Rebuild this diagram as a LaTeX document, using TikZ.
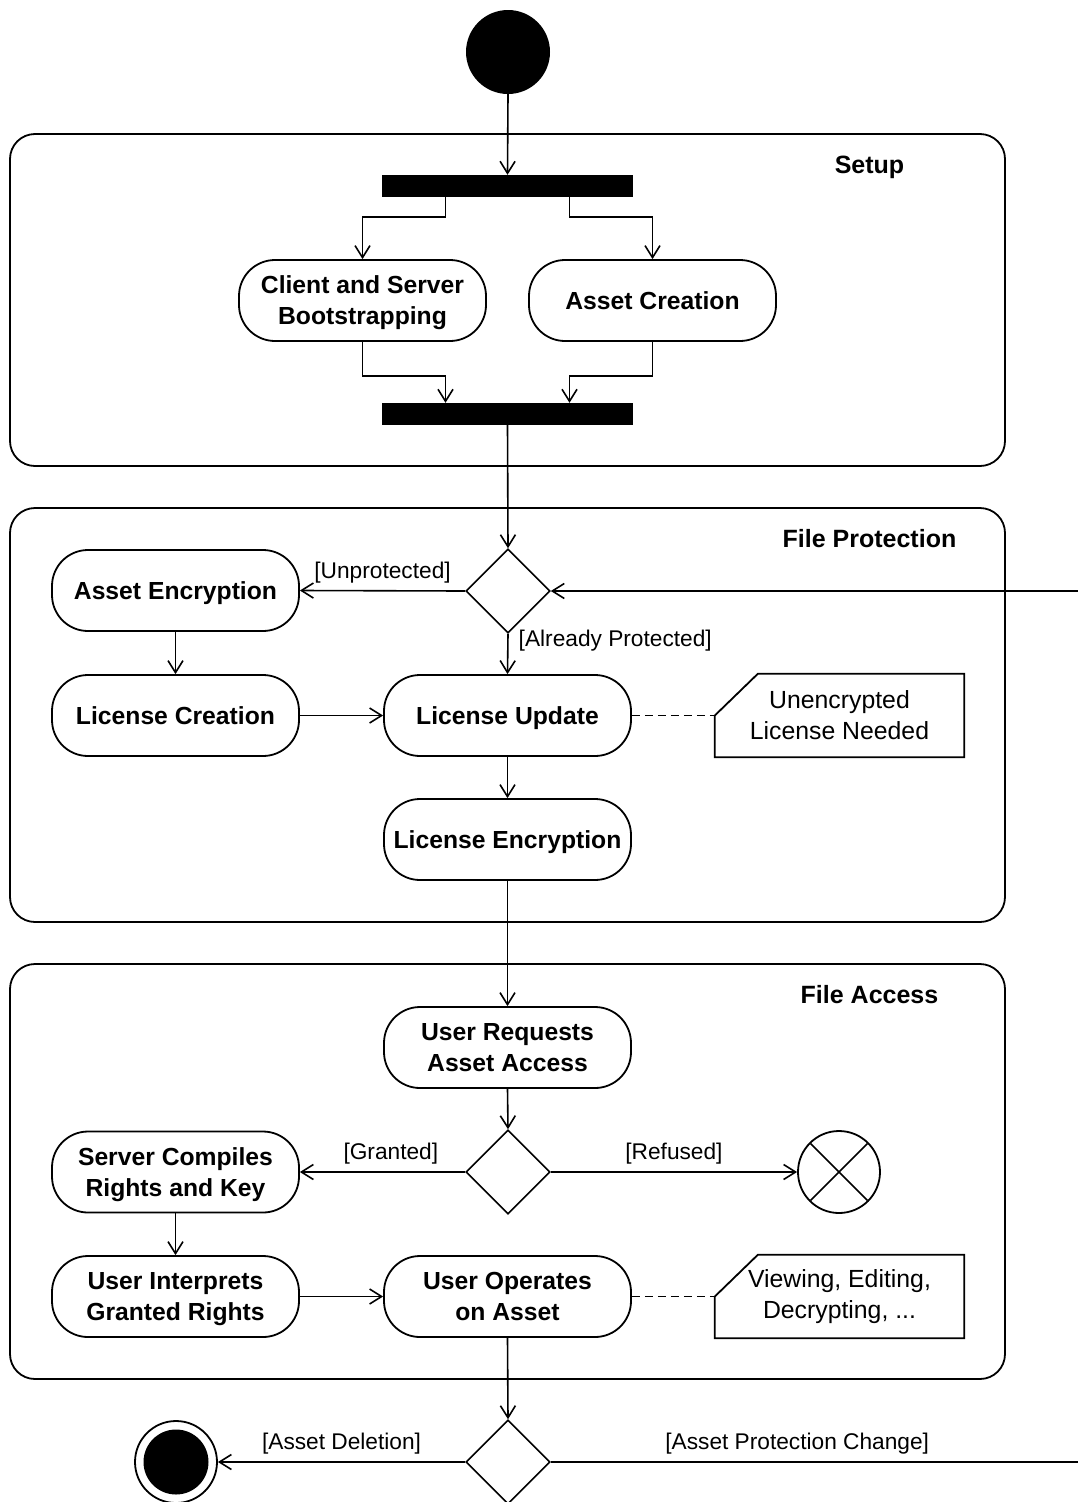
\documentclass[tikz,border=0pt]{standalone}
\usepackage{fontspec}
\setmainfont{Liberation Sans}
\usetikzlibrary{arrows.meta,shapes.geometric,calc}

\begin{document}
\begin{tikzpicture}[x=1pt,y=-1pt,
  action/.style={draw,fill=white,line width=1.8pt,rounded corners=36pt,
    minimum width=247pt,minimum height=81pt,inner sep=0pt,align=center,
    font=\bfseries\fontsize{24.7}{31}\selectfont},
  oneline/.style={text height=17.7pt,text depth=0pt},
  twoline/.style={text height=48.7pt,text depth=0pt},
  decision/.style={diamond,draw,fill=white,line width=1.6pt,aspect=1,
    minimum width=84pt,minimum height=84pt,inner sep=0pt},
  bar/.style={rectangle,fill=black,minimum width=251pt,minimum height=22pt,inner sep=0pt},
  initnode/.style={circle,fill=black,minimum size=84pt,inner sep=0pt},
  endnode/.style={circle,draw,fill=white,line width=1.8pt,minimum size=82pt,inner sep=0pt},
  notetext/.style={minimum width=249pt,minimum height=83pt,inner sep=0pt,align=center,
    font=\fontsize{24.8}{31}\selectfont},
  noteframe/.style={draw,fill=white,line width=1.8pt},
  frame/.style={draw,line width=1.8pt,rounded corners=25pt},
  title/.style={anchor=base,font=\bfseries\fontsize{25}{29}\selectfont},
  elabel/.style={inner sep=0pt,font=\fontsize{22.7}{27}\selectfont},
  flow/.style={line width=1.6pt,-{Straight Barb[length=12pt,width=15pt,line width=1.6pt]}},
  dashline/.style={line width=1.6pt,dash pattern=on 8pt off 5pt},
]
\useasboundingbox (0,0) rectangle (1078,1502);

% activity partitions
\draw[frame] (10,134) rectangle (1005,466);
\draw[frame] (10,508) rectangle (1005,922);
\draw[frame] (10,964) rectangle (1005,1379);
\node[title] (tsetup) at (869.5,173) {Setup};
\node[title] (tprot) at (869.5,547) {File Protection};
\node[title] (tacc) at (869.5,1003) {File Access};

% setup
\node[initnode] (start) at (508,52) {};
\node[bar] (fork) at (507.5,186) {};
\node[action] (csb) at (362.5,300.5) {};
\node[action,draw=none,fill=none,twoline] (csbtxt) at (csb.center) {Client and Server\\Bootstrapping};
\node[action,oneline] (ac) at (652.5,300.5) {Asset Creation};
\node[bar] (join) at (507.5,414) {};

% file protection
\node[decision] (dec1) at (508,591) {};
\node[action,oneline] (aenc) at (175.5,590.5) {Asset Encryption};
\node[action,oneline] (lcre) at (175.5,715.5) {License Creation};
\node[action,oneline] (lupd) at (507.5,715.5) {License Update};
\node[action,oneline] (lenc) at (507.5,839.5) {License Encryption};
\node[notetext] (note1) at (839.5,715.5) {};
\draw[noteframe] (note1.west) -- ([xshift=43pt]note1.north west) -- (note1.north east)
  -- (note1.south east) -- (note1.south west) -- cycle;
\node[notetext] (note1txt) at (note1.center) {Unencrypted\\License Needed};

% file access
\node[action] (ura) at (507.5,1047.5) {};
\node[action,draw=none,fill=none,twoline] (uratxt) at (ura.center) {User Requests\\Asset Access};
\node[decision] (dec2) at (508,1172) {};
\node[action] (scrk) at (175.5,1172) {};
\node[action,draw=none,fill=none,twoline] (scrktxt) at (scrk.center) {Server Compiles\\Rights and Key};
\node[endnode] (ffin) at (839,1172) {};
\draw[line width=1.5pt] ($(ffin.center)+(135:40)$) -- ($(ffin.center)+(-45:40)$)
  ($(ffin.center)+(45:40)$) -- ($(ffin.center)+(-135:40)$);
\node[action] (uigr) at (175.5,1296.5) {};
\node[action,draw=none,fill=none,twoline] (uigrtxt) at (uigr.center) {User Interprets\\Granted Rights};
\node[action] (uoa) at (507.5,1296.5) {};
\node[action,draw=none,fill=none,twoline] (uoatxt) at (uoa.center) {User Operates\\on Asset};
\node[notetext] (note2) at (839.5,1296.5) {};
\draw[noteframe] (note2.west) -- ([xshift=43pt]note2.north west) -- (note2.north east)
  -- (note2.south east) -- (note2.south west) -- cycle;
\node[notetext] (note2txt) at (note2.center) {Viewing, Editing,\\Decrypting, ...};

% after access
\node[decision] (dec3) at (508,1462) {};
\node[endnode] (fin) at (176,1462) {};
\fill (fin.center) circle (32.5pt);

% control flows
\draw[flow] (start.south) -- (fork.north);
\draw[flow] ([xshift=-62pt]fork.south) -- ++(0,20) -| (csb.north);
\draw[flow] ([xshift=62pt]fork.south) -- ++(0,20) -| (ac.north);
\draw[flow] (csb.south) -- ++(0,34) -| ([xshift=-62pt]join.north);
\draw[flow] (ac.south) -- ++(0,34) -| ([xshift=62pt]join.north);
\draw[flow] (join.south) -- (dec1.north);
\draw[flow] (dec1.west) -- node[elabel,above=7pt] (lunp) {[Unprotected]} (aenc.east);
\draw[flow] (dec1.south) -- node[elabel,anchor=west,pos=0.17,xshift=10pt] (lalr) {[Already Protected]} (lupd.north);
\draw[flow] (aenc.south) -- (lcre.north);
\draw[flow] (lcre.east) -- (lupd.west);
\draw[dashline] (lupd.east) -- (note1.west);
\draw[flow] (lupd.south) -- (lenc.north);
\draw[flow] (lenc.south) -- (ura.north);
\draw[flow] (ura.south) -- (dec2.north);
\draw[flow] (dec2.west) -- node[elabel,above=7pt,pos=0.45] (lgra) {[Granted]} (scrk.east);
\draw[flow] (dec2.east) -- node[elabel,above=7pt] (lref) {[Refused]} (ffin.west);
\draw[flow] (scrk.south) -- (uigr.north);
\draw[flow] (uigr.east) -- (uoa.west);
\draw[dashline] (uoa.east) -- (note2.west);
\draw[flow] (uoa.south) -- (dec3.north);
\draw[flow] (dec3.west) -- node[elabel,above=7pt] (ldel) {[Asset Deletion]} (fin.east);
\draw[flow] (dec3.east) -- node[elabel,above=7pt,pos=0.44] (lchg) {[Asset Protection Change]} ++(560,0) |- (dec1.east);
\end{tikzpicture}
\end{document}
